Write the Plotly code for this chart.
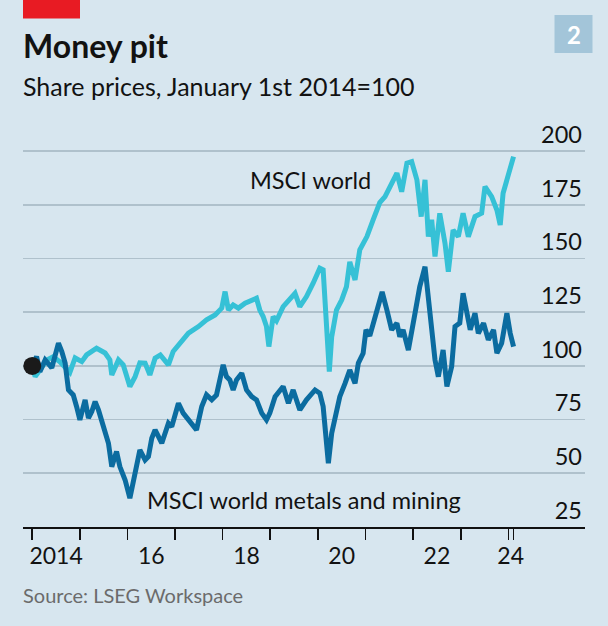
import plotly.graph_objects as go

# ---- data ----
world_t = [0.00, 0.06, 0.16, 0.31, 0.44, 0.58, 0.79, 0.90, 1.04, 1.14, 1.35, 1.53, 1.63, 1.67, 1.81, 1.91,
           2.05, 2.16, 2.26, 2.37, 2.47, 2.58, 2.69, 2.79, 2.86, 2.96, 3.14, 3.28, 3.49, 3.66, 3.84, 3.98,
           4.05, 4.12, 4.22, 4.33, 4.47, 4.61, 4.71, 4.78, 4.85, 4.92, 4.97, 5.06, 5.13, 5.27, 5.38, 5.52,
           5.62, 5.76, 5.90, 6.04, 6.11, 6.18, 6.24, 6.29, 6.39, 6.50, 6.60, 6.67, 6.78, 6.88, 7.03, 7.16,
           7.30, 7.41, 7.51, 7.66, 7.76, 7.87, 7.97, 8.08, 8.17, 8.25, 8.32, 8.39, 8.46, 8.56, 8.67, 8.74,
           8.84, 8.95, 9.05, 9.16, 9.30, 9.44, 9.51, 9.65, 9.76, 9.83, 9.89, 10.00, 10.11]
world_v = [100, 95.0, 98.1, 102.8, 104.3, 101.9, 97.0, 103.7, 102.0, 105.1, 108.2, 106.0, 102.8, 95.8, 102.8, 100.5,
           90.4, 95.0, 101.4, 101.3, 95.8, 103.6, 105.1, 102.8, 100.5, 106.7, 111.3, 115.2, 118.3, 121.4, 123.7, 126.9,
           134.6, 126.0, 128.4, 126.9, 129.2, 130.7, 131.5, 126.0, 123.0, 118.3, 109.0, 123.0, 121.0, 127.6, 130.7, 133.8,
           127.6, 132.3, 138.5, 145.5, 144.7, 123.0, 97.3, 113.6, 126.0, 130.7, 136.9, 148.4, 140.0, 154.0, 160.2, 168.0,
           176.0, 178.8, 183.5, 189.7, 181.1, 194.4, 195.1, 186.6, 169.5, 186.6, 160.2, 168.0, 150.9, 171.0, 157.1, 143.9,
           163.3, 160.2, 171.1, 160.2, 169.5, 171.1, 183.5, 178.8, 172.6, 165.6, 180.4, 188.1, 197.4]

mining_t = [0.00, 0.09, 0.16, 0.27, 0.41, 0.55, 0.62, 0.69, 0.76, 0.86, 0.93, 1.00, 1.11, 1.18, 1.25, 1.32,
            1.39, 1.46, 1.53, 1.60, 1.67, 1.77, 1.84, 1.95, 2.05, 2.16, 2.26, 2.37, 2.44, 2.51, 2.58, 2.72,
            2.86, 2.93, 3.07, 3.17, 3.28, 3.45, 3.56, 3.66, 3.77, 3.87, 4.01, 4.08, 4.15, 4.22, 4.29, 4.40,
            4.50, 4.61, 4.71, 4.82, 4.92, 4.99, 5.10, 5.27, 5.38, 5.48, 5.62, 5.76, 5.94, 6.04, 6.11, 6.18,
            6.22, 6.29, 6.39, 6.46, 6.57, 6.67, 6.78, 6.85, 6.95, 7.01, 7.09, 7.20, 7.35, 7.45, 7.55, 7.66,
            7.72, 7.79, 7.90, 8.04, 8.14, 8.25, 8.32, 8.39, 8.46, 8.53, 8.63, 8.71, 8.81, 8.88, 8.98, 9.05,
            9.13, 9.20, 9.30, 9.37, 9.48, 9.58, 9.69, 9.76, 9.86, 9.97, 10.04, 10.11]
mining_v = [100, 104.3, 97.3, 102.8, 99.1, 110.6, 106.7, 101.3, 88.8, 86.5, 81.1, 74.9, 84.2, 75.7, 78.7, 83.4,
            79.5, 74.9, 68.7, 64.0, 53.1, 60.1, 53.1, 46.9, 38.4, 50.0, 60.9, 56.2, 57.8, 66.3, 70.2, 64.0,
            73.3, 71.7, 82.6, 78.0, 74.9, 70.2, 81.1, 86.5, 84.2, 86.5, 100.5, 95.0, 93.5, 88.8, 93.5, 96.6,
            88.8, 85.7, 84.2, 78.0, 74.9, 78.0, 85.7, 90.4, 82.6, 88.8, 79.5, 84.2, 88.8, 87.3, 81.1, 65.5,
            54.7, 68.7, 79.5, 85.7, 91.9, 98.1, 91.9, 101.3, 105.9, 116.8, 114.0, 123.0, 134.4, 126.0, 116.8, 119.9,
            113.6, 116.8, 107.4, 124.5, 136.9, 146.2, 130.7, 116.8, 102.8, 95.0, 107.4, 90.4, 99.7, 118.3, 119.9, 133.8,
            124.5, 116.8, 124.5, 115.2, 119.9, 112.1, 116.8, 105.9, 110.6, 124.5, 115.2, 109.0]

BASE_YEAR = 2014
world_x = [BASE_YEAR + t for t in world_t]
mining_x = [BASE_YEAR + t for t in mining_t]

y_ticks = [25, 50, 75, 100, 125, 150, 175, 200]
year_ticks = [2014, 2015, 2016, 2017, 2018, 2019, 2020, 2021, 2022, 2023, 2024, 2024.11]
x_label_pos = [2014.5, 2016.5, 2018.5, 2020.5, 2022.5, 2024.05]
x_label_text = ["2014", "16", "18", "20", "22", "24"]

# ---- style ----
W, H = 608, 626
ML, MR, MT, MB = 23, 23, 105, 99
PX_PER_UNIT = 2.148          # vertical scale of the reference (px per index point)
Y_TOP = 25 + (H - MT - MB) / PX_PER_UNIT
BG = "#d7e6ef"
CYAN = "#36c1d6"
DARK = "#0b6ca0"
GRID = "#afc1cc"
FONT = "Lato"
TXT = "#121212"

def px(x):
    return (x - ML) / (W - ML - MR)

def py(y):
    return (H - MB - y) / (H - MT - MB)

fig = go.Figure()
fig.add_trace(go.Scatter(x=world_x, y=world_v, mode="lines",
                         line=dict(color=CYAN, width=5), hoverinfo="skip"))
fig.add_trace(go.Scatter(x=mining_x, y=mining_v, mode="lines",
                         line=dict(color=DARK, width=5), hoverinfo="skip"))
fig.add_trace(go.Scatter(x=[world_x[0]], y=[world_v[0]], mode="markers",
                         marker=dict(color="#1a1a1a", size=18), hoverinfo="skip"))

fig.add_shape(type="line", xref="paper", yref="y", x0=0, x1=1, y0=100, y1=100,
              line=dict(color="#111111", width=1.6), layer="below")

# header decorations
fig.add_shape(type="rect", xref="paper", yref="paper", x0=px(23), x1=px(80), y0=py(0), y1=py(18.5),
              fillcolor="#e81b23", line=dict(width=0))
fig.add_shape(type="rect", xref="paper", yref="paper", x0=px(554.5), x1=px(592.5), y0=py(15), y1=py(53),
              fillcolor="#a3c5d9", line=dict(width=0))

ann = [
    dict(text="<b>Money pit</b>", x=px(21), y=py(45), xanchor="left", yanchor="middle",
         font=dict(size=32, color=TXT)),
    dict(text="Share prices, January 1st 2014=100", x=px(21), y=py(86), xanchor="left", yanchor="middle",
         font=dict(size=25, color=TXT)),
    dict(text="<b>2</b>", x=px(573.5), y=py(34), xanchor="center", yanchor="middle",
         font=dict(size=24, color="white")),
    dict(text="Source: LSEG Workspace", x=px(21), y=py(595), xanchor="left", yanchor="middle",
         font=dict(size=20, color="#6b6b6b")),
    dict(text="MSCI world", x=px(248), y=py(180), xanchor="left", yanchor="middle",
         font=dict(size=23.5, color=TXT)),
    dict(text="MSCI world metals and mining", x=px(145), y=py(500), xanchor="left", yanchor="middle",
         font=dict(size=23.5, color=TXT)),
]
for a in ann:
    a.update(xref="paper", yref="paper", showarrow=False)
fig.update_layout(annotations=ann)

fig.update_layout(
    width=W, height=H, margin=dict(l=ML, r=MR, t=MT, b=MB),
    paper_bgcolor=BG, plot_bgcolor=BG, showlegend=False,
    font=dict(family=FONT, color=TXT),
    xaxis=dict(range=[2013.805, 2025.611], showgrid=False, zeroline=False, automargin=False,
               showline=True, linecolor="#111111", linewidth=1.6,
               tickvals=x_label_pos, ticktext=x_label_text, ticks="outside", ticklen=8,
               tickcolor=BG, tickwidth=1, tickfont=dict(size=23, color=TXT),
               minor=dict(tickvals=year_ticks, ticks="outside", ticklen=11, tickcolor="#111111", tickwidth=1.6)),
    yaxis=dict(range=[25, Y_TOP], side="right", tickvals=y_ticks, ticks="", automargin=False,
               ticklabelposition="inside top", showgrid=True, gridcolor=GRID, gridwidth=1.6,
               zeroline=False, showline=False, tickfont=dict(size=23.5, color=TXT)),
)

fig.write_html("out.html", config={"displayModeBar": False, "staticPlot": True},
               post_script="document.body.style.margin='0';document.body.style.background='" + BG + "';")
